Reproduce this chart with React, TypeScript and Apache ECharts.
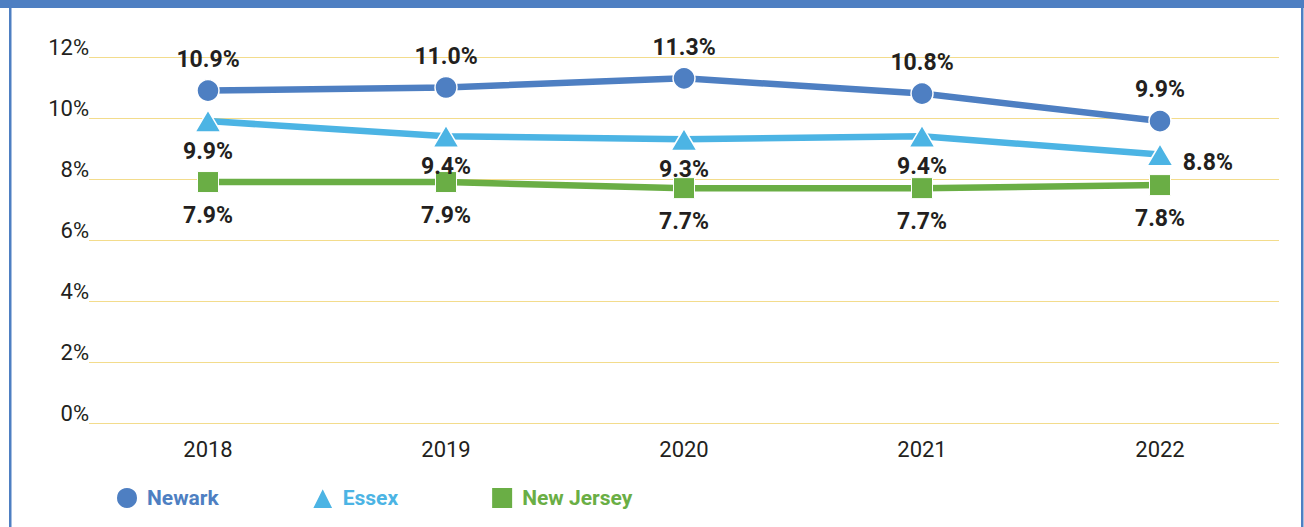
import React, { useEffect, useRef } from "react";
import * as echarts from "echarts";

const years = ["2018", "2019", "2020", "2021", "2022"];
const newark = [10.9, 11.0, 11.3, 10.8, 9.9];
const essex = [9.9, 9.4, 9.3, 9.4, 8.8];
const newJersey = [7.9, 7.9, 7.7, 7.7, 7.8];

const C_NEWARK = "#4e7fc2";
const C_ESSEX = "#4cb4e4";
const C_NJ = "#6aae45";
const TEXT = "#231f20";
const FONT = "Roboto, 'DejaVu Sans', sans-serif";

export default function App() {
  const ref = useRef<HTMLDivElement>(null);
  useEffect(() => {
    if (!ref.current) return;
    const chart = echarts.init(ref.current, undefined, { renderer: "svg" });
    const labelBase = {
      show: true,
      fontFamily: FONT,
      fontSize: 23,
      fontWeight: "bold" as const,
      color: TEXT,
      formatter: (p: any) => p.value.toFixed(1) + "%",
    };
    chart.setOption({
      animation: false,
      textStyle: { fontFamily: FONT },
      graphic: [
        { type: "rect", shape: { x: 0, y: 0, width: 1304, height: 8 }, style: { fill: C_NEWARK }, silent: true },
        { type: "rect", shape: { x: 9, y: 0, width: 2.5, height: 527 }, style: { fill: C_NEWARK }, silent: true },
        { type: "rect", shape: { x: 1301, y: 0, width: 2.5, height: 527 }, style: { fill: C_NEWARK }, silent: true },
      ],
      grid: { left: 89, right: 25, top: 57, bottom: 104, containLabel: false },
      legend: {
        left: 110,
        top: 481,
        itemWidth: 22,
        itemHeight: 22,
        itemGap: 92,
        textStyle: { fontFamily: FONT, fontSize: 21, fontWeight: "bold", padding: [0, 0, 0, 4] },
        data: [
          { name: "Newark", icon: "circle", textStyle: { color: C_NEWARK } },
          { name: "Essex", icon: "triangle", textStyle: { color: C_ESSEX } },
          { name: "New Jersey", icon: "rect", textStyle: { color: C_NJ } },
        ],
      },
      xAxis: {
        type: "category",
        data: years,
        boundaryGap: true,
        axisLine: { show: false },
        axisTick: { show: false },
        axisLabel: { color: TEXT, fontSize: 22, fontFamily: FONT, margin: 15 },
      },
      yAxis: {
        type: "value",
        min: 0,
        max: 12,
        interval: 2,
        axisLine: { show: false },
        axisTick: { show: false },
        splitLine: { lineStyle: { color: "#f3dc8c", width: 1 } },
        axisLabel: {
          color: TEXT,
          fontSize: 22,
          fontFamily: FONT,
          margin: 0,
          verticalAlign: "bottom",
          lineHeight: 20,
          formatter: "{value}%",
        },
      },
      series: [
        {
          name: "Newark",
          type: "line",
          data: newark,
          symbol: "circle",
          symbolSize: 22,
          color: C_NEWARK,
          lineStyle: { width: 6.5, color: C_NEWARK },
          itemStyle: { color: C_NEWARK, borderColor: "#fff", borderWidth: 1.5 },
          label: { ...labelBase, position: "top", distance: 8 },
          z: 4,
        },
        {
          name: "Essex",
          type: "line",
          data: essex.map((v, i) =>
            i === essex.length - 1
              ? { value: v, label: { position: "right", distance: 9, offset: [0, 8] } }
              : v
          ),
          symbol: "triangle",
          symbolSize: [26, 22],
          color: C_ESSEX,
          lineStyle: { width: 6.5, color: C_ESSEX },
          itemStyle: { color: C_ESSEX, borderColor: "#fff", borderWidth: 1.5 },
          label: { ...labelBase, position: "bottom", distance: 7 },
          z: 3,
        },
        {
          name: "New Jersey",
          type: "line",
          data: newJersey,
          symbol: "rect",
          symbolSize: 21,
          color: C_NJ,
          lineStyle: { width: 6.5, color: C_NJ },
          itemStyle: { color: C_NJ, borderColor: "#fff", borderWidth: 1 },
          label: { ...labelBase, position: "bottom", distance: 11 },
          z: 2,
        },
      ],
    });
    return () => chart.dispose();
  }, []);
  return (
    <div
      ref={ref}
      style={{ position: "fixed", left: 0, top: 0, width: 1304, height: 527, background: "#fff" }}
    />
  );
}
